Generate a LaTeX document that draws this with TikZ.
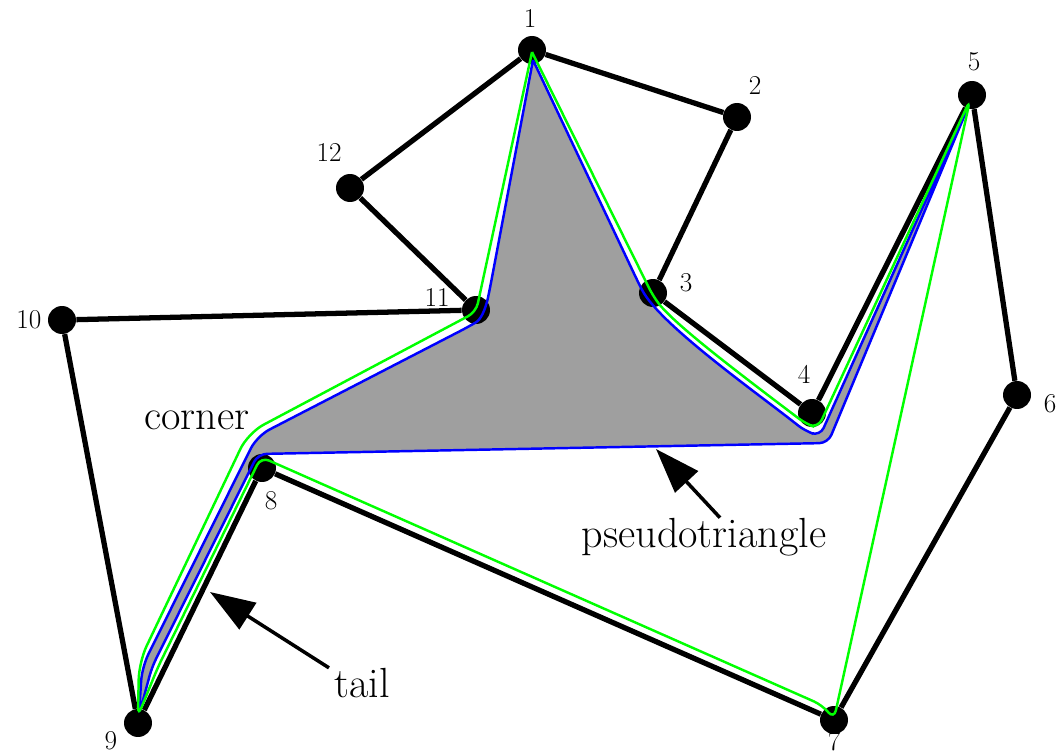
\documentclass[tikz,border=0pt]{standalone}
\usepackage{fontspec}
\usetikzlibrary{arrows.meta,calc}
\definecolor{ptgrey}{HTML}{9F9F9F}
\definecolor{rim}{HTML}{0000FF}
\definecolor{hull}{HTML}{00FF00}
\newcommand\ptregion{(533,60) -- (490,288) .. controls (485,312) and (480,320) .. (468,327) [rounded corners=8pt] -- (257,436) -- (142,667) [rounded corners=5pt] -- (139,715) -- (152,667) -- (258,454) -- (828,443) -- (971,100) -- (820,436) -- (805,431) .. controls (760,395) and (660,325) .. (638,282) -- (533,60)}

\begin{document}
\begin{tikzpicture}[x=0.02cm,y=-0.02cm,font=\fontsize{15.5}{18}\selectfont,>=Latex]
\tikzset{vtx/.style={circle,fill=black,inner sep=0pt,minimum size=0.56cm}, edge/.style={draw=black,line width=3pt}, num/.style={inner sep=0pt}, word/.style={inner sep=0pt,font=\fontsize{24}{28}\selectfont}, pt/.style={draw=rim,line width=1.4pt,rounded corners=5pt}, geo/.style={draw=hull,line width=1.4pt,rounded corners=5pt}, arr/.style={-{Triangle[length=0.9cm,width=0.62cm]},line width=2pt}}
\useasboundingbox (0,0) rectangle (1063,753);
\fill[ptgrey,rounded corners=5pt] \ptregion;
\node[vtx] (v1) at (532,50) {};
\node[vtx] (v2) at (737,117) {};
\node[vtx] (v3) at (653,293) {};
\node[vtx] (v4) at (812,413) {};
\node[vtx] (v5) at (972,95) {};
\node[vtx] (v6) at (1017,395) {};
\node[vtx] (v7) at (834,720) {};
\node[vtx] (v8) at (262,468) {};
\node[vtx] (v9) at (138,723) {};
\node[vtx] (v10) at (62,320) {};
\node[vtx] (v11) at (476,310) {};
\node[vtx] (v12) at (350,188) {};
\draw[edge] (v1)--(v2)--(v3)--(v4)--(v5)--(v6)--(v7)--(v8)--(v9)--(v10)--(v11)--(v12)--(v1);
\draw[pt] \ptregion;
\draw[geo] (532,52) -- (476,312) [rounded corners=10pt] -- (248,433) -- (139,662) [rounded corners=5pt] -- (138,716) -- (158,667) -- (261,457) -- (822,705) -- (834,719) -- (970,100) -- (818,428) -- (806,424) .. controls (740,374) and (675,325) .. (653,296) -- (532,52);
\node[num] (n1) at (530,19) {1};
\node[num] (n2) at (755,86) {2};
\node[num] (n3) at (686,283) {3};
\node[num] (n4) at (804,374) {4};
\node[num] (n5) at (974,62) {5};
\node[num] (n6) at (1050,404) {6};
\node[num] (n7) at (834,741) {7};
\node[num] (n8) at (271,501) {8};
\node[num] (n9) at (111,741) {9};
\node[num] (n10) at (29,320) {10};
\node[num] (n11) at (437,298) {11};
\node[num] (n12) at (329,153) {12};
\node[word] (crn) at (197,420) {corner};
\node[word] (ptri) at (704,537) {pseudotriangle};
\node[word] (tl) at (362,683) {tail};
\coordinate (ptip) at (656,449);
\coordinate (ttip) at (210,592);
\draw[arr] ($(ptri.north)+(16,0)$) -- (ptip);
\draw[arr] ($(tl.north west)+(-5,0)$) -- (ttip);
\end{tikzpicture}
\end{document}
